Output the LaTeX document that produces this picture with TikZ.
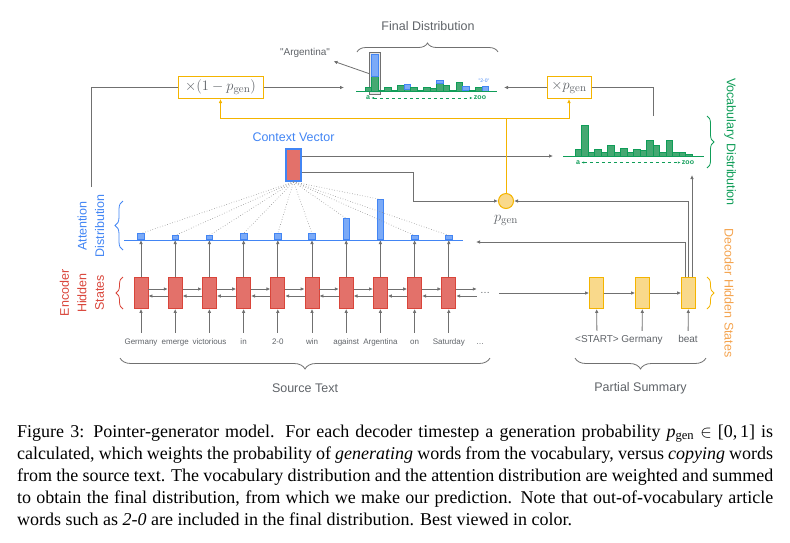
\documentclass[tikz,border=0pt]{standalone}
\usepackage[no-math]{fontspec}
\setmainfont{Liberation Serif}
\newfontfamily\dfont{Liberation Sans}
\usetikzlibrary{positioning, calc, arrows.meta, decorations.pathreplacing}

\definecolor{lgray}{HTML}{707070}
\definecolor{tgray}{HTML}{5F6368}
\definecolor{rbord}{HTML}{D9453A}
\definecolor{rfill}{HTML}{E3716A}
\definecolor{ybord}{HTML}{F4B400}
\definecolor{yfill}{HTML}{F9D98B}
\definecolor{bbord}{HTML}{4285F4}
\definecolor{bfill}{HTML}{7BAAF7}
\definecolor{gbord}{HTML}{0F9D58}
\definecolor{gfill}{HTML}{45A872}
\definecolor{olab}{HTML}{F4A34E}

\begin{document}
\begin{tikzpicture}[x=1pt, y=-1pt, font=\dfont,
  arr/.style={draw=lgray, line width=0.8pt, -{Latex[length=4pt, width=3.6pt]}},
  gline/.style={draw=lgray, line width=0.8pt},
  yline/.style={draw=ybord, line width=1pt},
  yarr/.style={yline, -{Latex[length=4pt, width=3.6pt]}},
  attn/.style={draw=lgray!80, line width=0.6pt, dotted},
  encbox/.style={draw=rbord, fill=rfill, line width=0.8pt, minimum width=14pt, minimum height=31pt, inner sep=0pt},
  decbox/.style={encbox, draw=ybord, fill=yfill},
  attbar/.style={draw=bbord, fill=bfill, line width=0.6pt, minimum width=6.5pt, inner sep=0pt, anchor=south},
  gbar/.style={draw=gbord, fill=gfill, line width=0.5pt},
  bbar/.style={draw=bbord, fill=bfill, line width=0.5pt},
  word/.style={text=tgray, font=\dfont\fontsize{8}{9}\selectfont, text height=6pt, text depth=2pt, inner sep=5pt},
  dword/.style={text=tgray, font=\dfont\fontsize{10}{12}\selectfont, text height=7.5pt, text depth=2.5pt, inner sep=4pt},
  lab/.style={text=tgray, font=\dfont\fontsize{12.5}{15}\selectfont},
  side/.style={font=\dfont\fontsize{12.5}{17.5}\selectfont, align=center},
  mulbox/.style={draw=ybord, fill=white, line width=1pt, minimum height=22pt, inner sep=0pt, text=tgray, font=\fontsize{15}{18}\selectfont},
  brc/.style={decorate, decoration={brace, amplitude=#1}, draw=lgray, line width=0.8pt},
  brc/.default=6pt,
  tick/.style={text=gbord, font=\dfont\bfseries\fontsize{7}{8}\selectfont, inner sep=1pt},
  span/.style={draw=gbord, line width=0.7pt, dashed, {Latex[length=3pt]}-{Latex[length=3pt]}}
]
\useasboundingbox (0,0) rectangle (790,542);

% encoder
\foreach \w/\h [count=\i] in {Germany/6, emerge/4, victorious/4, in/6, 2-0/6, win/6, against/21, Argentina/40, on/4, Saturday/4} {
  \pgfmathsetmacro\xx{141+34.2*(\i-1)}
  \node (e\i) [encbox] at (\xx,293) {};
  \node (w\i) [word] at (\xx,342) {\w};
  \node (a\i) [attbar, minimum height=\h pt] at (\xx,240) {};
  \draw[arr] (w\i) -- (e\i);
  \draw[arr] (e\i) -- (a\i);
}
\foreach \i [evaluate=\i as \j using int(\i+1)] in {1,...,9} {
  \draw[arr] ([yshift=4pt]e\i.east) -- ([yshift=4pt]e\j.west);
  \draw[arr] ([yshift=-3pt]e\j.west) -- ([yshift=-3pt]e\i.east);
}
\node (edots) [text=tgray, inner sep=3pt] at (485,293) {\dots};
\node (w11) [word] at (480,342) {\dots};
\draw[arr] ([yshift=4pt]e10.east) -- ([yshift=4pt]edots.west);
\draw[arr] ([yshift=-3pt]edots.west) -- ([yshift=-3pt]e10.east);
\coordinate (attL) at (124,240);
\coordinate (attR) at (463,240);
\draw[draw=bbord, line width=1pt] (attL) -- (attR);

% decoder
\node (d1) [decbox] at (596.5,293) {};
\node (d2) [decbox] at (642.5,293) {};
\node (d3) [decbox] at (688.5,293) {};
\node (v1) [dword] at (597,340) {<START>};
\node (v2) [dword] at (642,340) {Germany};
\node (v3) [dword] at (688,340) {beat};
\draw[arr] (v1) -- (d1);
\draw[arr] (v2) -- (d2);
\draw[arr] (v3) -- (d3);
\draw[arr] (d1) -- (d2);
\draw[arr] (d2) -- (d3);
\draw[arr] ([xshift=6pt]edots.east) -- (d1);

% context vector
\node (ctx) [draw=bbord, line width=1.8pt, fill=rfill, minimum width=15pt, minimum height=32pt, inner sep=0pt] at (293.5,165) {};
\node (ctxlab) [above=3pt of ctx, text=bbord, font=\dfont\fontsize{12.5}{15}\selectfont] {Context Vector};
\foreach \i in {1,...,10} \draw[attn] (ctx.south) -- (a\i.north);

% p_gen
\node (pgen) [circle, draw=ybord, fill=yfill, line width=1pt, minimum size=15pt, inner sep=0pt] at (506,201) {};
\node (pgenlab) [below=3pt of pgen, text=tgray, font=\fontsize{15}{18}\selectfont] {$p_{\mathrm{gen}}$};
\coordinate (vocIn) at (553,156);
\coordinate (vocBot) at (692,175);
\coordinate (attIn) at (476,242);
\draw[arr] ([yshift=9pt]ctx.east) -- (vocIn);
\draw[arr] ([yshift=-7pt]ctx.east) -- ++(111,0) |- (pgen);
\draw[arr] ([xshift=-3.5pt]d3.north) |- (attIn);
\draw[arr] (d3.north) |- (pgen);
\draw[arr] ([xshift=3.5pt]d3.north) -- (vocBot);

% mixing
\node (mul1) [mulbox, minimum width=85pt] at (220.5,87.5) {$\times(1-p_{\mathrm{gen}})$};
\node (mul2) [mulbox, minimum width=44pt] at (569,87.5) {$\times p_{\mathrm{gen}}$};
\coordinate (ysplit) at (506,118);
\draw[yline] (pgen) -- (ysplit);
\draw[yarr] (ysplit) -| (mul1);
\draw[yarr] (ysplit) -| (mul2);
\coordinate (attOut) at (91,187);
\coordinate (finL) at (344,87.5);
\coordinate (finR) at (504,87.5);
\coordinate (vocTop) at (653,116);
\draw[gline] (attOut) |- (mul1);
\draw[arr] (mul1) -- (finL);
\draw[arr] (mul2) -- (finR);
\draw[gline] (vocTop) |- (mul2);

% final distribution
\node (hl) [draw=lgray, fill=gray!20, line width=1pt, minimum width=11pt, minimum height=42pt, inner sep=0pt] at (374.75,73.5) {};
\foreach \g/\b [count=\i] in {4/0, 15/22, 1.7/0, 4/0, 1.7/0, 6/0, 2/5.7, 4/0, 1.7/0, 4/0, 3.3/0, 8.3/3, 6/0, 1.7/0, 9/0, 1.7/4, 1.7/0, 4/0, 0/5.3} {
  \pgfmathsetmacro\xl{365+6.5*(\i-1)}
  \ifdim\g pt>0pt \draw[gbar] (\xl,91.5) rectangle ++(6.5,-\g); \fi
  \ifdim\b pt>0pt \draw[bbar] (\xl,91.5-\g) rectangle ++(6.5,-\b); \fi
}
\draw[draw=gbord, line width=1pt] (356,91.5) -- (497,91.5);
\node (fa) [tick] at (368,98) {a};
\node (fz) [tick] at (480,98) {zoo};
\draw[span] (fa) -- (fz);
\node (twoLab) [text=bbord, font=\dfont\fontsize{5}{6}\selectfont, inner sep=0pt] at (484,80.5) {"2-0"};
\node (argLab) [text=tgray, font=\dfont\fontsize{10}{12}\selectfont] at (305,53) {"Argentina"};
\draw[arr] (hl.west) -- (argLab.south east);
\draw[brc=9pt] (357,52) -- (498,52);
\node (finlab) [lab] at (428,26) {Final Distribution};

% vocabulary distribution
\foreach \h [count=\i] in {7,31,3.3,7,3.3,11,3.3,7.7,3.3,7,6,16,11,3.3,16,3.3,3.3,1.3} {
  \pgfmathsetmacro\xl{575+6.5*(\i-1)}
  \draw[gbar] (\xl,156) rectangle ++(6.5,-\h);
}
\draw[draw=gbord, line width=1pt] (563,156) -- (704,156);
\node (va) [tick] at (578,162.5) {a};
\node (vz) [tick] at (688,162.5) {zoo};
\draw[span] (va) -- (vz);

% braces and side labels
\draw[brc=7pt, draw=gbord] (707,116) -- (707,168);
\node (voclab) [side, text=gbord, rotate=-90] at (730,142) {Vocabulary Distribution};
\draw[brc=7pt, draw=ybord] (707,277) -- (707,309);
\node (declab) [side, text=olab, rotate=-90] at (729,293) {Decoder Hidden States};
\draw[brc=7pt, draw=rbord] (123,309) -- (123,277);
\node (enclab) [side, text=rbord, rotate=90] at (82,293) {Encoder\\Hidden\\States};
\draw[brc=8pt, draw=bbord] (123,250) -- (123,201);
\node (attlab) [side, text=bbord, rotate=90] at (91,226) {Attention\\Distribution};
\draw[brc=11pt] (490,358) -- (120,358);
\node (srclab) [lab] at (305,388) {Source Text};
\draw[brc=11pt] (706,358) -- (575,358);
\node (sumlab) [lab] at (640.5,388) {Partial Summary};

% caption
\node (cap) [anchor=north west, inner sep=0pt, text width=756pt, align=justify, font=\rmfamily\fontsize{18}{22}\selectfont] at (17,424.5) {\hyphenpenalty=10000 \exhyphenpenalty=10000
Figure 3: Pointer-generator model. For each decoder timestep a generation probability {\itshape p}\textsubscript{gen}~$\in$ [0,\kern.15em1] is\linebreak
calculated, which weights the probability of \emph{generating} words from the vocabulary, versus \emph{copying} words\linebreak
from the source text. The vocabulary distribution and the attention distribution are weighted and summed\linebreak
to obtain the final distribution, from which we make our prediction. Note that out-of-vocabulary article\linebreak
words such as \emph{2-0} are included in the final distribution. Best viewed in color.};
\end{tikzpicture}
\end{document}
